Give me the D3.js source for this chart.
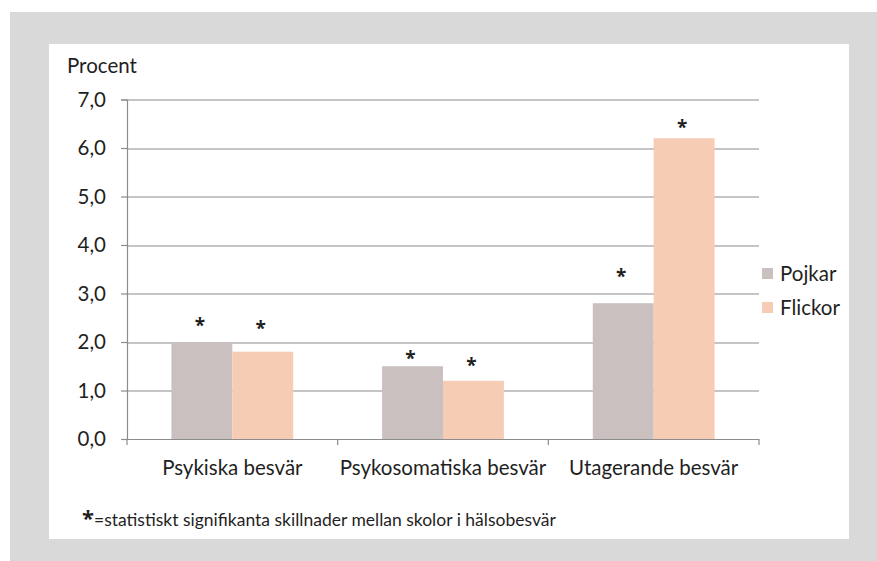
<!DOCTYPE html>
<html>
<head>
<meta charset="utf-8">
<script src="https://cdn.jsdelivr.net/npm/d3@7"></script>
<style>
  body { margin: 0; background: #fff; }
  svg text { font-family: Lato, "Open Sans", sans-serif; fill: #1f1f1f; }
  svg text.star { font-family: "Open Sans", sans-serif; font-weight: bold; }
</style>
</head>
<body>
<div id="chartDiv"></div>
<script>
// Data
  const categories = ['Psykiska besvär', 'Psykosomatiska besvär', 'Utagerande besvär'];
  const seriesNames = ['Pojkar', 'Flickor'];
  const pojkar = [2.0, 1.5, 2.8];
  const flickor = [1.8, 1.2, 6.2];
  // where the significance stars sit, in y units
  const starPojkar = [2.44, 1.75, 3.44];
  const starFlickor = [2.37, 1.61, 6.52];
  const yTickValues = [0, 1, 2, 3, 4, 5, 6, 7];
  const colors = ['#c9c0bf', '#f7ccb4'];

  const vars = {
    width: 877, height: 561,
    margin: { left: 127, right: 118, top: 99.5, bottom: 122 },
    yLabel: 'Procent',
    note: '=statistiskt signifikanta skillnader mellan skolor i hälsobesvär'
  };

  const rows = categories.map((c, i) => ({
    cat: c,
    vals: [
      { s: seriesNames[0], v: pojkar[i], star: starPojkar[i] },
      { s: seriesNames[1], v: flickor[i], star: starFlickor[i] }
    ]
  }));

  let svg = d3.select('#chartDiv').append('svg')
    .attr('width', vars.width)
    .attr('height', vars.height);

// background frame
  svg.append('rect').attr('x', 10).attr('y', 12).attr('width', 867).attr('height', 549).attr('fill', '#d9d9d9');
  svg.append('rect').attr('x', 49).attr('y', 44).attr('width', 800).attr('height', 495).attr('fill', '#fff');

  const innerW = vars.width - vars.margin.left - vars.margin.right;
  const innerH = vars.height - vars.margin.top - vars.margin.bottom;

  let gObj = svg.append('g').attr('transform', `translate(${vars.margin.left},${vars.margin.top})`);

  const xScale = d3.scaleBand().domain(categories).range([0, innerW]);
  const xInner = d3.scaleBand().domain(seriesNames).range([0, xScale.bandwidth()])
    .paddingOuter(0.73);
  const yScale = d3.scaleLinear().domain([0, 7]).range([innerH, 0]);

// gridlines
  gObj.append('g').selectAll('line')
    .data(yTickValues.filter(d => d > 0))
    .enter().append('line')
      .attr('x1', 0).attr('x2', innerW)
      .attr('y1', d => Math.round(yScale(d)) + 0.5)
      .attr('y2', d => Math.round(yScale(d)) + 0.5)
      .attr('stroke', '#8c8c8c').attr('stroke-width', 1.2);

// Y axis
  const yAxis = d3.axisLeft(yScale)
    .tickValues(yTickValues)
    .tickSize(6)
    .tickPadding(15)
    .tickFormat(d => d3.format('.1f')(d).replace('.', ','));
  const yAxisG = gObj.append('g').call(yAxis);
  yAxisG.select('.domain').attr('stroke', '#8c8c8c').attr('stroke-width', 1.2);
  yAxisG.selectAll('.tick line').attr('stroke', '#8c8c8c').attr('stroke-width', 1.2);
  yAxisG.selectAll('.tick text').attr('font-size', 20.5).attr('fill', '#1f1f1f');

// bars
  const groups = gObj.selectAll('.grp')
    .data(rows)
    .enter().append('g')
      .attr('class', 'grp')
      .attr('transform', d => `translate(${xScale(d.cat)},0)`);

  groups.selectAll('rect')
    .data(d => d.vals)
    .enter().append('rect')
      .attr('x', d => xInner(d.s))
      .attr('y', d => yScale(d.v))
      .attr('width', xInner.bandwidth())
      .attr('height', d => innerH - yScale(d.v))
      .attr('fill', (d, i) => colors[i]);

  groups.selectAll('.star')
    .data(d => d.vals)
    .enter().append('text')
      .attr('class', 'star')
      .attr('x', d => xInner(d.s) + xInner.bandwidth() / 2 - 2)
      .attr('y', d => yScale(d.star) + 11)
      .attr('text-anchor', 'middle')
      .attr('font-size', 19)
      .text('*');

// X axis
  const xAxisG = gObj.append('g').attr('transform', `translate(0,${innerH})`);
  xAxisG.append('line')
    .attr('x1', 0).attr('x2', innerW)
    .attr('y1', 0.5).attr('y2', 0.5)
    .attr('stroke', '#8c8c8c').attr('stroke-width', 1.2);
  xAxisG.selectAll('.xtick')
    .data(d3.range(categories.length + 1))
    .enter().append('line')
      .attr('x1', i => i * xScale.step()).attr('x2', i => i * xScale.step())
      .attr('y1', 0).attr('y2', 6)
      .attr('stroke', '#8c8c8c').attr('stroke-width', 1.2);
  xAxisG.selectAll('.xlabel')
    .data(categories)
    .enter().append('text')
      .attr('x', d => xScale(d) + xScale.bandwidth() / 2)
      .attr('y', 36)
      .attr('text-anchor', 'middle')
      .attr('font-size', 20.5)
      .text(d => d);

// y label
  svg.append('text')
    .attr('x', 67).attr('y', 72.5)
    .attr('font-size', 20.5)
    .text(vars.yLabel);

// legend
  const legend = svg.append('g').attr('transform', 'translate(762,268)');
  const li = legend.selectAll('g').data(seriesNames).enter().append('g')
    .attr('transform', (d, i) => `translate(0,${i * 34})`);
  li.append('rect').attr('width', 11).attr('height', 11).attr('fill', (d, i) => colors[i]);
  li.append('text').attr('x', 18).attr('y', 12.5).attr('font-size', 20.5).text(d => d);

// footnote
  const note = svg.append('text').attr('x', 82).attr('y', 526);
  note.append('tspan').style('font-family', '"Open Sans", sans-serif').style('font-weight', 'bold')
    .attr('font-size', 22).text('*');
  note.append('tspan').attr('font-size', 17.5).text(vars.note);
</script>
</body>
</html>
